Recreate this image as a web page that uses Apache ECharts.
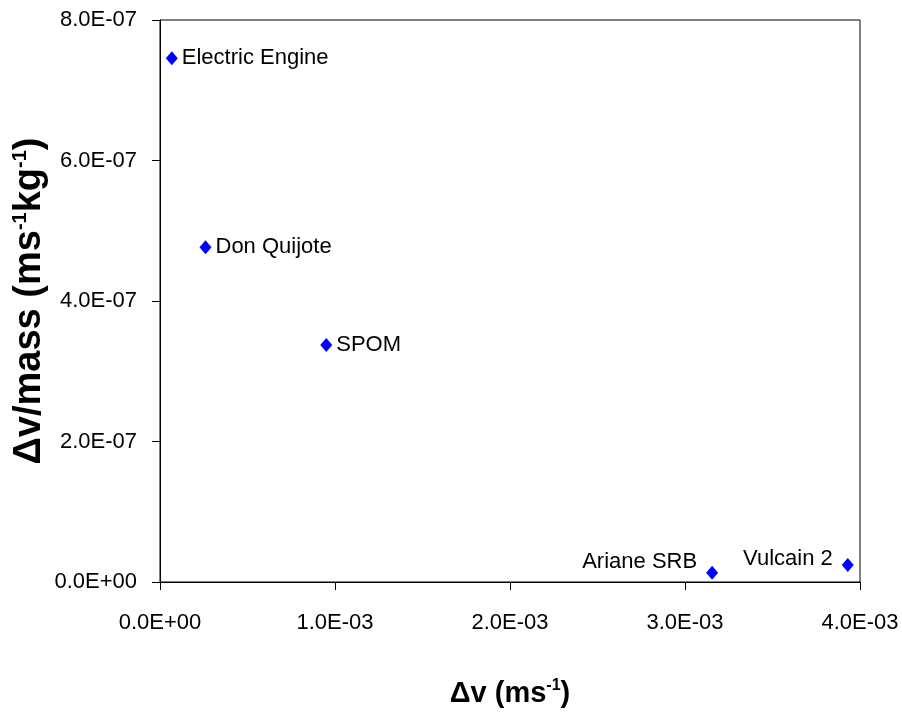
<!DOCTYPE html>
<html>
<head>
<meta charset="utf-8">
<script src="https://cdn.jsdelivr.net/npm/echarts@6/dist/echarts.min.js"></script>
<style>
  html, body { margin: 0; padding: 0; background: #fff; }
  #chart { width: 902px; height: 713px; }
</style>
</head>
<body>
<div id="chart"></div>
<script>
// engines and their values
const engineNames = ['Electric Engine', 'Don Quijote', 'SPOM', 'Ariane SRB', 'Vulcain 2']
const deltaV = [0.0674e-3, 0.26e-3, 0.95e-3, 3.155e-3, 3.93e-3]
const deltaVPerMass = [7.455e-7, 4.764e-7, 3.374e-7, 1.32e-8, 2.42e-8]

// which side the label sits on
const leftLabels = ['Ariane SRB', 'Vulcain 2']

const sans = '"Liberation Sans", Arial, sans-serif'

function sciLabel (v) {
  if (v === 0) return '0.0E+00'
  const parts = v.toExponential(1).split('e')
  const exp = parseInt(parts[1], 10)
  const sign = exp < 0 ? '-' : '+'
  const abs = Math.abs(exp)
  return parts[0] + 'E' + sign + (abs < 10 ? '0' + abs : abs)
}

const points = engineNames.map((n, i) => {
  const item = { name: n, value: [deltaV[i], deltaVPerMass[i]] }
  if (leftLabels.indexOf(n) >= 0) {
    item.label = {
      position: 'left',
      distance: 9,
      offset: [0, n === 'Ariane SRB' ? -11 : -6]
    }
  }
  return item
})

const myChart = echarts.init(document.getElementById('chart'))

const option = {
  animation: false,
  backgroundColor: '#fff',
  grid: {
    left: 160,
    right: 42,
    top: 20,
    bottom: 131,
    outerBoundsMode: 'none',
    containLabel: false,
    show: true,
    borderColor: '#000',
    borderWidth: 1
  },
  xAxis: {
    type: 'value',
    min: 0,
    max: 4e-3,
    interval: 1e-3,
    name: 'Δv (ms{sup|-1})',
    nameLocation: 'middle',
    nameGap: 96,
    nameTextStyle: {
      fontFamily: sans,
      fontWeight: 'bold',
      fontSize: 29,
      color: '#000',
      rich: {
        sup: { fontSize: 16, fontWeight: 'bold', color: '#000', padding: [0, 0, 16, 0] }
      }
    },
    axisLine: { show: true, lineStyle: { color: '#000', width: 1 } },
    axisTick: { show: true, inside: false, length: 8, lineStyle: { color: '#000' } },
    axisLabel: {
      margin: 30,
      fontFamily: sans,
      fontSize: 22,
      color: '#000',
      formatter: sciLabel
    },
    splitLine: { show: false }
  },
  yAxis: {
    type: 'value',
    min: 0,
    max: 8e-7,
    interval: 2e-7,
    name: 'Δv/mass (ms{sup|-1}kg{sup|-1})',
    nameLocation: 'middle',
    nameMoveOverlap: false,
    nameGap: 110,
    nameTextStyle: {
      fontFamily: sans,
      fontWeight: 'bold',
      fontSize: 38,
      color: '#000',
      rich: {
        sup: { fontSize: 20, fontWeight: 'bold', color: '#000', padding: [0, 0, 20, 0] }
      }
    },
    axisLine: { show: true, lineStyle: { color: '#000', width: 1 } },
    axisTick: { show: true, inside: false, length: 8, lineStyle: { color: '#000' } },
    axisLabel: {
      margin: 23,
      fontFamily: sans,
      fontSize: 22,
      color: '#000',
      formatter: sciLabel
    },
    splitLine: { show: false }
  },
  series: [
    {
      type: 'scatter',
      symbol: 'diamond',
      symbolSize: [12, 14],
      itemStyle: { color: '#0000ff', opacity: 1 },
      label: {
        show: true,
        position: 'right',
        distance: 4,
        fontFamily: sans,
        fontSize: 22,
        color: '#000',
        formatter: p => p.name
      },
      data: points
    }
  ]
}

myChart.setOption(option)
</script>
</body>
</html>
